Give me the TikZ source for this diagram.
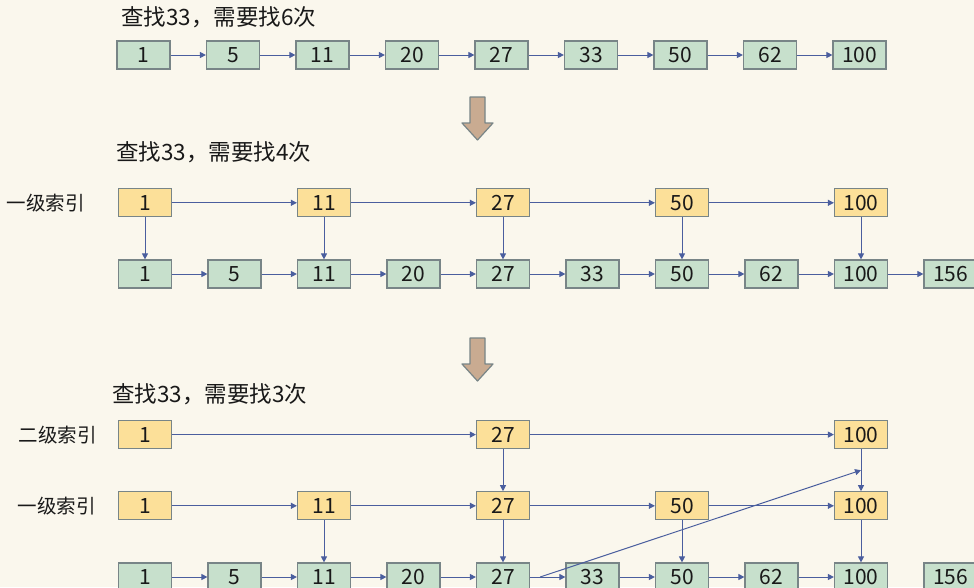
\documentclass[tikz,border=0pt]{standalone}
\usepackage{fontspec}
\setmainfont{Noto Sans CJK SC}
\usetikzlibrary{positioning,arrows.meta}
\definecolor{cBg}{rgb}{0.98,0.97,0.93}
\definecolor{cG}{rgb}{0.78,0.88,0.80}
\definecolor{cY}{rgb}{0.99,0.88,0.60}
\definecolor{cB}{rgb}{0.29,0.37,0.62}
\definecolor{cE}{rgb}{0.47,0.52,0.53}
\definecolor{cT}{rgb}{0.79,0.67,0.57}
\definecolor{cK}{rgb}{0.10,0.10,0.10}
\tikzset{mynode/.style={
  shape=rectangle,
  draw=cE,
  fill=cG,
  line width=1.2pt,
  minimum width=53pt,
  minimum height=28pt,
  inner sep=0pt,
  font=\fontsize{21}{24}\selectfont,
  text = cK,
  }
}
\tikzset{mynode2/.style={
  shape=rectangle,
  draw=cE,
  fill=cY,
  line width=1.2pt,
  minimum width=53pt,
  minimum height=28pt,
  inner sep=0pt,
  font=\fontsize{21}{24}\selectfont,
  text = cK,
  }
}
\tikzset{mytext/.style={
  inner sep=0pt,
  font=\fontsize{19.5}{22}\selectfont,
  text = cK,
  }
}
\tikzset{mytitle/.style={
  inner sep=0pt,
  font=\fontsize{22.5}{26}\selectfont,
  text = cK,
  }
}
\tikzset{mylink/.style={
  draw=cB,
  line width=1pt,
  -{Triangle[length=6pt,width=6pt]},
  }
}
\tikzset{mydown/.style={
  draw=cE,
  fill=cT,
  line width=1.2pt,
  line join=round,
  }
}

\begin{document}
\begin{tikzpicture}[x=1pt, y=-1pt, node distance=35.3pt]
  \fill [cBg] (0,0) rectangle (974,587);
  \useasboundingbox (0,0) rectangle (974,587);
  \clip (0,0) rectangle (974,587);

  \node [mytitle, anchor=west] (t1) at (121,17) {查找33，需要找6次};
  \node [mynode] (a1) at (143.5,55) {1};
  \node [right=of a1, mynode] (a2) {5};
  \node [right=of a2, mynode] (a3) {11};
  \node [right=of a3, mynode] (a4) {20};
  \node [right=of a4, mynode] (a5) {27};
  \node [right=of a5, mynode] (a6) {33};
  \node [right=of a6, mynode] (a7) {50};
  \node [right=of a7, mynode] (a8) {62};
  \node [right=of a8, mynode] (a9) {100};
  \draw [mylink] (a1) -- (a2);
  \draw [mylink] (a2) -- (a3);
  \draw [mylink] (a3) -- (a4);
  \draw [mylink] (a4) -- (a5);
  \draw [mylink] (a5) -- (a6);
  \draw [mylink] (a6) -- (a7);
  \draw [mylink] (a7) -- (a8);
  \draw [mylink] (a8) -- (a9);

  \draw [mydown] (470,97) -- (485,97) -- (485,123) -- (493,123) -- (477.5,140)
    -- (462,123) -- (470,123) -- cycle;

  \node [mytitle, anchor=west] (t2) at (116,152) {查找33，需要找4次};
  \node [mynode] (b1) at (145,274) {1};
  \node [right=of b1, mynode] (b2) {5};
  \node [right=of b2, mynode] (b3) {11};
  \node [right=of b3, mynode] (b4) {20};
  \node [right=of b4, mynode] (b5) {27};
  \node [right=of b5, mynode] (b6) {33};
  \node [right=of b6, mynode] (b7) {50};
  \node [right=of b7, mynode] (b8) {62};
  \node [right=of b8, mynode] (b9) {100};
  \node [right=of b9, mynode] (b10) {156};
  \node [above=42pt of b1, mynode2] (p1) {1};
  \node [above=42pt of b3, mynode2] (p2) {11};
  \node [above=42pt of b5, mynode2] (p3) {27};
  \node [above=42pt of b7, mynode2] (p4) {50};
  \node [above=42pt of b9, mynode2] (p5) {100};
  \node [left=33pt of p1, mytext] (l1) {一级索引};
  \draw [mylink] (b1) -- (b2);
  \draw [mylink] (b2) -- (b3);
  \draw [mylink] (b3) -- (b4);
  \draw [mylink] (b4) -- (b5);
  \draw [mylink] (b5) -- (b6);
  \draw [mylink] (b6) -- (b7);
  \draw [mylink] (b7) -- (b8);
  \draw [mylink] (b8) -- (b9);
  \draw [mylink] (b9) -- (b10);
  \draw [mylink] (p1) -- (p2);
  \draw [mylink] (p2) -- (p3);
  \draw [mylink] (p3) -- (p4);
  \draw [mylink] (p4) -- (p5);
  \draw [mylink] (p1) -- (b1);
  \draw [mylink] (p2) -- (b3);
  \draw [mylink] (p3) -- (b5);
  \draw [mylink] (p4) -- (b7);
  \draw [mylink] (p5) -- (b9);

  \draw [mydown] (470,338) -- (485,338) -- (485,364) -- (493,364) -- (477.5,381)
    -- (462,364) -- (470,364) -- cycle;

  \node [mytitle, anchor=west] (t3) at (112,394) {查找33，需要找3次};
  \node [mynode] (c1) at (145,577) {1};
  \node [right=of c1, mynode] (c2) {5};
  \node [right=of c2, mynode] (c3) {11};
  \node [right=of c3, mynode] (c4) {20};
  \node [right=of c4, mynode] (c5) {27};
  \node [right=of c5, mynode] (c6) {33};
  \node [right=of c6, mynode] (c7) {50};
  \node [right=of c7, mynode] (c8) {62};
  \node [right=of c8, mynode] (c9) {100};
  \node [right=of c9, mynode] (c10) {156};
  \node [above=42pt of c1, mynode2] (q1) {1};
  \node [above=42pt of c3, mynode2] (q2) {11};
  \node [above=42pt of c5, mynode2] (q3) {27};
  \node [above=42pt of c7, mynode2] (q4) {50};
  \node [above=42pt of c9, mynode2] (q5) {100};
  \node [above=42pt of q1, mynode2] (r1) {1};
  \node [above=42pt of q3, mynode2] (r2) {27};
  \node [above=42pt of q5, mynode2] (r3) {100};
  \node [left=21pt of r1, mytext] (l2) {二级索引};
  \node [left=22pt of q1, mytext] (l3) {一级索引};
  \draw [mylink] (c1) -- (c2);
  \draw [mylink] (c2) -- (c3);
  \draw [mylink] (c3) -- (c4);
  \draw [mylink] (c4) -- (c5);
  \draw [mylink] (c5) -- (c6);
  \draw [mylink] (c6) -- (c7);
  \draw [mylink] (c7) -- (c8);
  \draw [mylink] (c8) -- (c9);
  \draw [mylink] (q1) -- (q2);
  \draw [mylink] (q2) -- (q3);
  \draw [mylink] (q3) -- (q4);
  \draw [mylink] (q4) -- (q5);
  \draw [mylink] (r1) -- (r2);
  \draw [mylink] (r2) -- (r3);
  \draw [mylink] (q2) -- (c3);
  \draw [mylink] (q3) -- (c5);
  \draw [mylink] (q4) -- (c7);
  \draw [mylink] (q5) -- (c9);
  \draw [mylink] (r2) -- (q3);
  \draw [mylink] (r3) -- (q5);
  \coordinate [right=10pt of c5.east] (d1);
  \path (r3.south) -- coordinate (d2) (q5.north);
  \draw [mylink] (d1) -- (d2);
\end{tikzpicture}
\end{document}
